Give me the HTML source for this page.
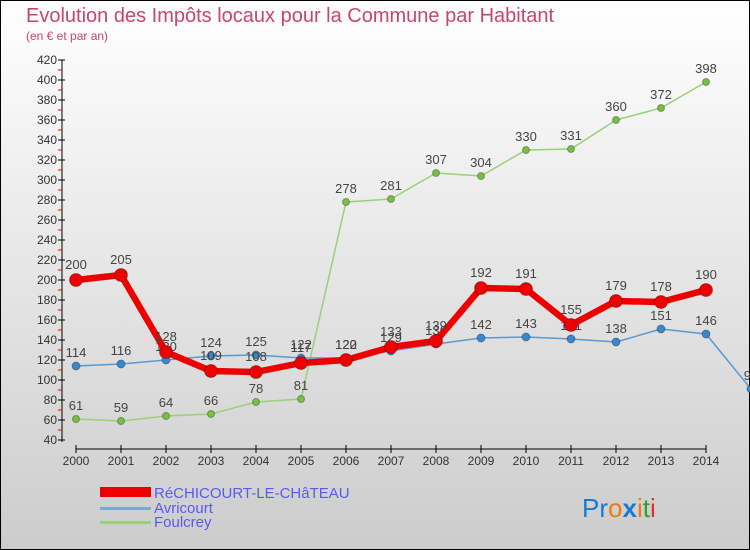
<!DOCTYPE html>
<html><head><meta charset="utf-8"><style>
body{margin:0;}
#c{width:750px;height:550px;position:relative;overflow:hidden;}
svg{display:block;font-family:"Liberation Sans",sans-serif;}
</style></head><body>
<div id="c">
<svg id="s" width="750" height="550">
<defs><linearGradient id="bg" x1="0" y1="0" x2="0" y2="1"><stop offset="0" stop-color="#ffffff"/><stop offset="1" stop-color="#cccccc"/></linearGradient></defs>
<rect x="0.5" y="0.5" width="749" height="549" fill="url(#bg)" stroke="#000"/>
<text x="26" y="22" font-size="20" fill="#c8456e">Evolution des Impôts locaux pour la Commune par Habitant</text>
<text x="26" y="40" font-size="12" fill="#c8456e">(en € et par an)</text>
<g id="axes"></g><g id="series"></g>
<g>
<rect x="100" y="487" width="51" height="10" fill="#e00"/>
<text x="154" y="498" font-size="15" fill="#5a5af0">RéCHICOURT-LE-CHâTEAU</text>
<rect x="100" y="507" width="51" height="3" fill="#7aaad0"/>
<text x="154" y="513" font-size="15" fill="#5a5af0">Avricourt</text>
<rect x="100" y="521" width="51" height="3" fill="#99d07a"/>
<text x="154" y="527" font-size="15" fill="#5a5af0">Foulcrey</text>
</g>
<text x="582" y="517" font-size="26"><tspan fill="#1a7ad0">Pr</tspan><tspan fill="#f07a10">o</tspan><tspan fill="#1a7ad0" font-weight="bold">x</tspan><tspan fill="#f07a10">i</tspan><tspan fill="#30a030">t</tspan><tspan fill="#e03030">i</tspan></text>
</svg></div>
<script>
const years=[2000,2001,2002,2003,2004,2005,2006,2007,2008,2009,2010,2011,2012,2013,2014];
const yTicks=[40,60,80,100,120,140,160,180,200,220,240,260,280,300,320,340,360,380,400,420];
const rechicourt=[200,205,128,109,108,117,120,133,139,192,191,155,179,178,190];
const avricourt=[114,116,120,124,125,122,122,129,136,142,143,141,138,151,146,91];
const foulcrey=[61,59,64,66,78,81,278,281,307,304,330,331,360,372,398];
const NS="http://www.w3.org/2000/svg";
const X=i=>76+i*45, Y=v=>440-(v-40);
function mk(t,a,p){const e=document.createElementNS(NS,t);for(const k in a)e.setAttribute(k,a[k]);p.appendChild(e);return e;}
const ax=document.getElementById('axes');
let l=mk('line',{x1:62,y1:60,x2:62,y2:442,stroke:'#000'},ax);


l=mk('line',{x1:76,y1:449,x2:706,y2:449,stroke:'#000'},ax);


yTicks.forEach((v,i)=>{
 const t=mk('line',{x1:58,y1:Y(v),x2:65,y2:Y(v),stroke:'#000'},ax);
 
 
 if(i<yTicks.length-1){const m=mk('line',{x1:58,y1:Y(v+10),x2:62,y2:Y(v+10),stroke:'#e00'},ax);
 
 }
 const tx=mk('text',{x:57,y:Y(v)+4,'font-size':12,fill:'#333','text-anchor':'end'},ax);tx.textContent=v;
 
 
});
years.forEach((y,i)=>{
 const t=mk('line',{x1:X(i),y1:445,x2:X(i),y2:453,stroke:'#000'},ax);
 
 
 const tx=mk('text',{x:X(i),y:465,'font-size':12,fill:'#333','text-anchor':'middle'},ax);tx.textContent=y;
 
 
});
const sg=document.getElementById('series');
function series(data,name,color,w,r,fillPt,labelDy){
 const g=mk('g',{},sg);
 
 
 const pl=mk('polyline',{points:data.map((v,i)=>X(i)+','+Y(v)).join(' '),fill:'none',stroke:color,'stroke-width':w,'stroke-linejoin':'round'},g);
 
 
 data.forEach((v,i)=>{
  const c=mk('circle',{cx:X(i),cy:Y(v),r:r,fill:fillPt,stroke:'rgba(0,0,0,0.3)'},g);
  
  
  const t=mk('text',{x:X(i),y:Y(v)-labelDy,'font-size':13,fill:'#444','text-anchor':'middle'},g);t.textContent=v;
  
  
 });
}
series(foulcrey,'foulcrey','#99d07a',1.5,3.5,'#77c040',9);
series(avricourt,'avricourt','#5a9ad0',1.5,4,'#3a88cc',9);
series(rechicourt,'rechicourt','#ee0000',6.5,6.5,'#ee0000',11);
</script>
</body></html>
